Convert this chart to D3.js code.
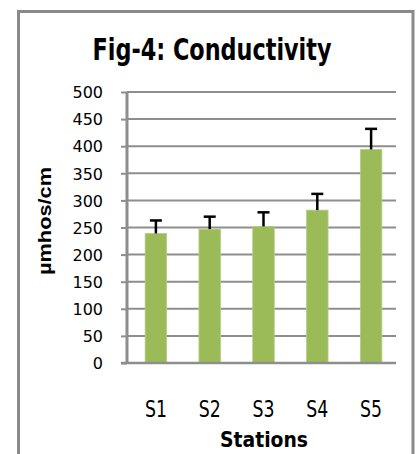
<!DOCTYPE html>
<html>
<head>
<meta charset="utf-8">
<script src="https://cdn.jsdelivr.net/npm/d3@7"></script>
<style>
  body { margin: 0; background: #fff; }
  svg { display: block; }
  .narrow { font-family: "Liberation Sans Narrow", "DejaVu Sans Condensed", "Liberation Sans", sans-serif; }
</style>
</head>
<body>
<div id="chart"></div>
<script>
// data
var stations = ["S1", "S2", "S3", "S4", "S5"];
var conductivity = [239, 247, 252, 282, 394];
var errPlus = [24, 23, 26, 30, 38];
var yTicks = [0, 50, 100, 150, 200, 250, 300, 350, 400, 450, 500];

var width = 419, height = 454;

var svg = d3.select("#chart").append("svg")
    .attr("width", width)
    .attr("height", height);

// outer chart frame (runs off the bottom of the picture)
svg.append("rect")
    .attr("x", 18.5).attr("y", 11.5)
    .attr("width", 394.5).attr("height", 460)
    .attr("fill", "#fff")
    .attr("stroke", "#8a8a8a")
    .attr("stroke-width", 3);

var plot = {left: 127, right: 396, top: 92, bottom: 363};

var y = d3.scaleLinear()
    .domain([0, 500])
    .range([plot.bottom, plot.top]);

var x = d3.scaleBand()
    .domain(stations)
    .range([plot.left + 2, plot.right + 2])
    .paddingInner(0.6)
    .paddingOuter(0.3);

// gridlines
svg.append("g")
    .selectAll("line")
    .data(yTicks.filter(function (d) { return d > 0; }))
    .enter().append("line")
    .attr("x1", plot.left).attr("x2", plot.right)
    .attr("y1", function (d) { return y(d); })
    .attr("y2", function (d) { return y(d); })
    .attr("stroke", "#8e8e8e")
    .attr("stroke-width", 2);

// y axis
var yAxis = svg.append("g")
    .attr("transform", "translate(" + plot.left + ",0)")
    .call(d3.axisLeft(y).tickValues(yTicks).tickSize(6).tickPadding(18));
yAxis.select(".domain").remove();
yAxis.selectAll(".tick line").attr("stroke", "#8e8e8e").attr("stroke-width", 2);
yAxis.selectAll(".tick text")
    .attr("fill", "#000")
    .attr("dy", "0.36em")
    .style("font-family", "'DejaVu Sans', sans-serif")
    .style("font-size", "16px");

// bars
svg.append("g")
    .selectAll("rect")
    .data(stations)
    .enter().append("rect")
    .attr("x", function (d) { return x(d); })
    .attr("y", function (d, i) { return y(conductivity[i]); })
    .attr("width", x.bandwidth())
    .attr("height", function (d, i) { return y(0) - y(conductivity[i]); })
    .attr("fill", "#9bbb59")
    .attr("stroke", "#b5cf85")
    .attr("stroke-width", 0.8);

// error bars (plus side only shows)
var eb = svg.append("g")
    .selectAll("g")
    .data(stations)
    .enter().append("g");
eb.append("line")
    .attr("x1", function (d) { return x(d) + x.bandwidth() / 2; })
    .attr("x2", function (d) { return x(d) + x.bandwidth() / 2; })
    .attr("y1", function (d, i) { return y(conductivity[i]); })
    .attr("y2", function (d, i) { return y(conductivity[i] + errPlus[i]); })
    .attr("stroke", "#000")
    .attr("stroke-width", 2.5);
eb.append("line")
    .attr("x1", function (d) { return x(d) + x.bandwidth() / 2 - 6; })
    .attr("x2", function (d) { return x(d) + x.bandwidth() / 2 + 6; })
    .attr("y1", function (d, i) { return y(conductivity[i] + errPlus[i]); })
    .attr("y2", function (d, i) { return y(conductivity[i] + errPlus[i]); })
    .attr("stroke", "#000")
    .attr("stroke-width", 2.5);

// axis lines on top
svg.append("line")
    .attr("x1", plot.left).attr("x2", plot.left)
    .attr("y1", plot.top).attr("y2", plot.bottom + 1)
    .attr("stroke", "#8e8e8e").attr("stroke-width", 3);
svg.append("line")
    .attr("x1", plot.left - 6).attr("x2", plot.right)
    .attr("y1", plot.bottom).attr("y2", plot.bottom)
    .attr("stroke", "#8e8e8e").attr("stroke-width", 2.5);

// x labels
svg.append("g")
    .selectAll("text")
    .data(stations)
    .enter().append("text")
    .attr("class", "narrow")
    .attr("x", function (d) { return x(d) + x.bandwidth() / 2 - 11; })
    .attr("y", 416.5)
    .attr("textLength", 22)
    .attr("lengthAdjust", "spacingAndGlyphs")
    .style("font-size", "23px")
    .text(function (d) { return d; });

// titles
svg.append("text")
    .attr("class", "narrow")
    .attr("x", 92.5).attr("y", 60)
    .attr("textLength", 239)
    .attr("lengthAdjust", "spacingAndGlyphs")
    .style("font-size", "31px")
    .style("font-weight", "bold")
    .text("Fig-4: Conductivity");

svg.append("text")
    .attr("class", "narrow")
    .attr("x", 220).attr("y", 446.5)
    .attr("textLength", 88)
    .attr("lengthAdjust", "spacingAndGlyphs")
    .style("font-size", "21px")
    .style("font-weight", "bold")
    .text("Stations");

svg.append("text")
    .attr("transform", "translate(51,275) rotate(-90)")
    .attr("textLength", 108)
    .attr("lengthAdjust", "spacingAndGlyphs")
    .style("font-family", "'Liberation Sans', sans-serif")
    .style("font-size", "19px")
    .style("font-weight", "bold")
    .text("µmhos/cm");
</script>
</body>
</html>
